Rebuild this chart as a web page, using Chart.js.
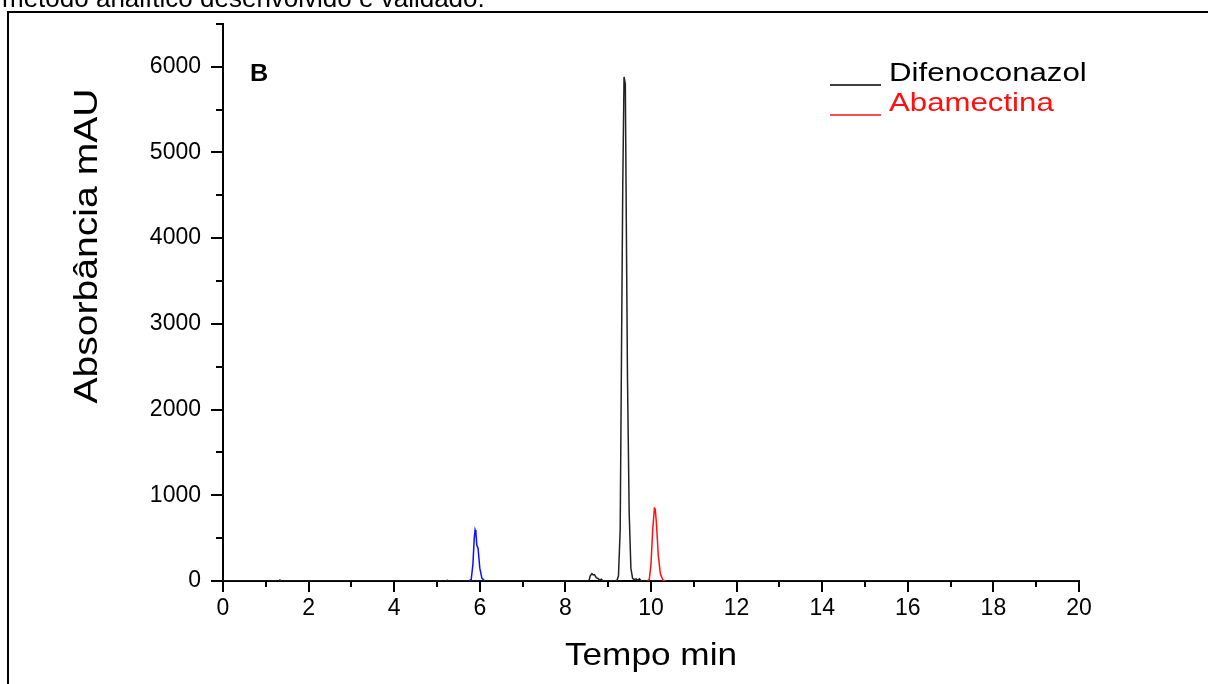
<!DOCTYPE html>
<html>
<head>
<meta charset="utf-8">
<script src="https://cdn.jsdelivr.net/npm/chart.js@4"></script>
<style>
  html, body { margin: 0; padding: 0; background: #fff; }
  #wrap { width: 1208px; height: 684px; position: relative; }
</style>
</head>
<body>
<div id="wrap"><canvas id="chromChart" width="1208" height="684"></canvas></div>
<script>
// Axis setup
var xMin = 0, xMax = 20;
var yMin = 0, yMax = 6500;
var xMajorTicks = [0, 2, 4, 6, 8, 10, 12, 14, 16, 18, 20];
var xMinorTicks = [1, 3, 5, 7, 9, 11, 13, 15, 17, 19];
var yMajorTicks = [0, 1000, 2000, 3000, 4000, 5000, 6000];
var yMinorTicks = [500, 1500, 2500, 3500, 4500, 5500, 6500];

// Difenoconazol (black) - baseline, small bump at ~8.6 and main peak at ~9.37
var difTime = [0, 1.3, 1.33, 1.36, 5.2, 5.24, 5.28, 8.55, 8.58, 8.62, 8.65, 8.68, 8.72, 8.76, 8.8, 8.84, 8.88,
               9.2, 9.24, 9.28, 9.31, 9.34, 9.37, 9.4, 9.42, 9.45, 9.49, 9.53, 9.57, 9.61, 9.65, 9.69, 9.73, 9.77, 20];
var difAbs  = [0, 0, 12, 0, 0, 8, 0, 0, 60, 85, 70, 75, 40, 30, 10, 20, 0,
               0, 60, 600, 2600, 4600, 5880, 5800, 4400, 2400, 800, 150, 30, 15, 25, 10, 25, 0, 0];

// Abamectina (red) - peak at ~10.1
var abaTime = [9.92, 9.96, 10.0, 10.04, 10.08, 10.1, 10.13, 10.17, 10.22, 10.28, 10.35];
var abaAbs  = [0, 20, 200, 600, 850, 840, 650, 300, 80, 10, 0];

// unlabelled blue peak at ~5.9
var bluTime = [5.74, 5.8, 5.84, 5.87, 5.89, 5.91, 5.93, 5.96, 6.0, 6.05, 6.12];
var bluAbs  = [0, 20, 200, 500, 595, 560, 420, 380, 150, 30, 0];

var legendNames = ['Difenoconazol', 'Abamectina'];
var legendColors = ['#000000', '#ff1010'];

function toPoints(xs, ys) {
    return xs.map(function(x, i) { return { x: x, y: ys[i] }; });
}

function stretchText(ctx, text, x, y, font, sx, align) {
    ctx.save();
    ctx.font = font;
    ctx.textAlign = align || 'left';
    ctx.translate(x, y);
    ctx.scale(sx, 1);
    ctx.fillText(text, 0, 0);
    ctx.restore();
}

// frame, caption, minor ticks, labels
var decorPlugin = {
    id: 'decor',
    beforeDraw: function(chart) {
        var ctx = chart.ctx;
        ctx.save();
        ctx.fillStyle = '#fff';
        ctx.fillRect(0, 0, chart.width, chart.height);
        ctx.strokeStyle = '#000';
        ctx.lineWidth = 2;
        ctx.beginPath();
        ctx.moveTo(8, 700);
        ctx.lineTo(8, 12);
        ctx.lineTo(1220, 12);
        ctx.stroke();
        ctx.fillStyle = '#000';
        ctx.textBaseline = 'alphabetic';
        stretchText(ctx, 'método analítico desenvolvido e validado.', 2, 7, '26px "Liberation Sans"', 1);
        ctx.restore();
    },
    afterDraw: function(chart) {
        var ctx = chart.ctx;
        var xs = chart.scales.x, ys = chart.scales.y;
        var area = chart.chartArea;
        ctx.save();
        ctx.strokeStyle = '#000';
        ctx.lineWidth = 2;
        ctx.beginPath();
        xMinorTicks.forEach(function(v) {
            var px = Math.round(xs.getPixelForValue(v));
            ctx.moveTo(px, area.bottom);
            ctx.lineTo(px, area.bottom + 6);
        });
        yMinorTicks.forEach(function(v) {
            var py = Math.round(ys.getPixelForValue(v));
            ctx.moveTo(area.left, py);
            ctx.lineTo(area.left - 7, py);
        });
        ctx.stroke();

        ctx.fillStyle = '#000';
        ctx.textBaseline = 'alphabetic';
        // panel letter
        stretchText(ctx, 'B', 250, 81, 'bold 24px "Liberation Sans"', 1.05);
        // axis titles
        stretchText(ctx, 'Tempo min', (area.left + area.right) / 2, 665, '32px "Liberation Sans"', 1.1, 'center');
        ctx.save();
        ctx.translate(97, 246);
        ctx.rotate(-Math.PI / 2);
        ctx.font = '34px "Liberation Sans"';
        ctx.textAlign = 'center';
        ctx.scale(1.15, 1);
        ctx.fillText('Absorbância mAU', 0, 0);
        ctx.restore();

        // legend
        var ly = [83, 113];
        legendNames.forEach(function(name, i) {
            ctx.strokeStyle = legendColors[i];
            ctx.lineWidth = 1.5;
            ctx.beginPath();
            ctx.moveTo(830, ly[i] + 2);
            ctx.lineTo(881, ly[i] + 2);
            ctx.stroke();
            ctx.fillStyle = legendColors[i];
            stretchText(ctx, name, 889, ly[i] - 2, '26px "Liberation Sans"', 1.2);
        });
        ctx.restore();
    }
};

var ctx = document.getElementById('chromChart').getContext('2d');
var chromChart = new Chart(ctx, {
    type: 'line',
    data: {
        datasets: [{
            label: 'Blue',
            data: toPoints(bluTime, bluAbs),
            borderColor: '#1010ff',
            borderWidth: 1.5,
            pointRadius: 0,
            tension: 0
        }, {
            label: legendNames[1],
            data: toPoints(abaTime, abaAbs),
            borderColor: legendColors[1],
            borderWidth: 1.5,
            pointRadius: 0,
            tension: 0
        }, {
            label: legendNames[0],
            data: toPoints(difTime, difAbs),
            borderColor: '#222222',
            borderWidth: 1.5,
            pointRadius: 0,
            tension: 0
        }]
    },
    options: {
        responsive: false,
        animation: false,
        layout: {
            padding: { left: 0, top: 22, right: 129, bottom: 0 }
        },
        plugins: {
            legend: { display: false },
            tooltip: { enabled: false }
        },
        scales: {
            x: {
                type: 'linear',
                min: xMin,
                max: xMax,
                afterFit: function(scale) { scale.height = 103; },
                afterBuildTicks: function(scale) {
                    scale.ticks = xMajorTicks.map(function(v) { return { value: v }; });
                },
                border: { display: true, color: '#000', width: 2 },
                grid: {
                    drawOnChartArea: false,
                    drawTicks: true,
                    tickLength: 11,
                    color: '#000',
                    lineWidth: 2
                },
                ticks: {
                    color: '#000',
                    padding: 3,
                    maxRotation: 0,
                    callback: function(value) { return String(value); },
                    font: { family: 'Liberation Sans', size: 23 }
                }
            },
            y: {
                type: 'linear',
                min: yMin,
                max: yMax,
                afterFit: function(scale) { scale.width = 223; },
                afterBuildTicks: function(scale) {
                    scale.ticks = yMajorTicks.map(function(v) { return { value: v }; });
                },
                border: { display: true, color: '#000', width: 2 },
                grid: {
                    drawOnChartArea: false,
                    drawTicks: true,
                    tickLength: 12,
                    color: '#000',
                    lineWidth: 2
                },
                ticks: {
                    color: '#000',
                    padding: 10,
                    callback: function(value) { return String(value); },
                    font: { family: 'Liberation Sans', size: 23 }
                }
            }
        }
    },
    plugins: [decorPlugin]
});
</script>
</body>
</html>
